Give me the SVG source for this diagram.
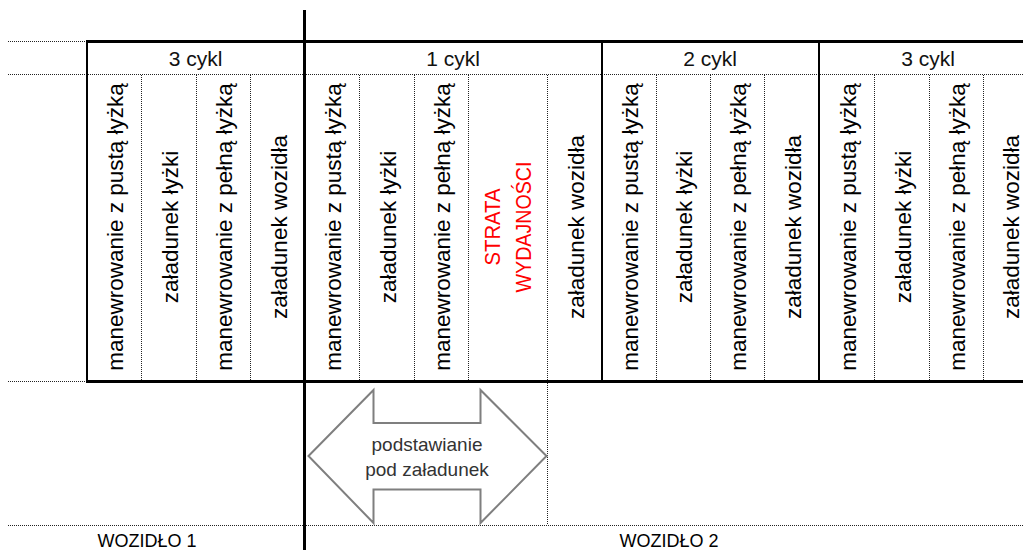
<svg xmlns="http://www.w3.org/2000/svg" width="1023" height="550" viewBox="0 0 1023 550">
<style>
.thick{stroke:#000;stroke-width:3;fill:none}
.solid{stroke:#000;stroke-width:2;fill:none}
.dot{stroke:#222;stroke-width:1;stroke-dasharray:1 1;fill:none}
.hdr{font-family:"Liberation Sans",Arial,sans-serif;font-size:21px;fill:#111;text-anchor:middle}
.v{font-family:"Liberation Sans",Arial,sans-serif;font-size:22.5px;fill:#000;text-anchor:middle}
.red{fill:#ff0000}
.lbl{font-family:"Liberation Sans",Arial,sans-serif;font-size:18px;fill:#000;text-anchor:middle}
.arw{font-family:"Liberation Sans",Arial,sans-serif;font-size:19px;fill:#333;text-anchor:middle}
</style>
<rect width="1023" height="550" fill="#fff"/>
<g id="grid">
  <path class="dot" d="M8 41.5H86 M8 74.5H1023 M8 381.5H86 M8 525.5H1023"/>
  <path class="dot" d="M141.5 75V380 M196.5 75V380 M250.5 75V380
    M359.5 75V380 M414.5 75V380 M468.5 75V380 M547.5 75V380
    M656.5 75V380 M710.5 75V380 M764.5 75V380
    M874.5 75V380 M929.5 75V380 M983.5 75V380
    M547.5 383V525"/>
  <path class="thick" d="M86 41.5H1023 M86 381.5H1023"/>
  <path class="solid" d="M87 41V382 M602 41V382 M819 41V382"/>
  <path class="thick" d="M304.5 10V550"/>
</g>
<g id="headers">
  <text class="hdr" x="195.5" y="66">3 cykl</text>
  <text class="hdr" x="453" y="66">1 cykl</text>
  <text class="hdr" x="710" y="66">2 cykl</text>
  <text class="hdr" x="928" y="66">3 cykl</text>
</g>
<g id="cycle3-left">
  <text class="v" x="123" y="227" transform="rotate(-90 123 227)">manewrowanie z pustą łyżką</text>
  <text class="v" x="177.5" y="227" transform="rotate(-90 177.5 227)">załadunek łyżki</text>
  <text class="v" x="232" y="227" transform="rotate(-90 232 227)">manewrowanie z pełną łyżką</text>
  <text class="v" x="286.5" y="227" transform="rotate(-90 286.5 227)">załadunek wozidła</text>
</g>
<g id="cycle1">
  <text class="v" x="340.5" y="227" transform="rotate(-90 340.5 227)">manewrowanie z pustą łyżką</text>
  <text class="v" x="395.5" y="227" transform="rotate(-90 395.5 227)">załadunek łyżki</text>
  <text class="v" x="450" y="227" transform="rotate(-90 450 227)">manewrowanie z pełną łyżką</text>
  <text class="v red" x="500" y="227" transform="rotate(-90 500 227)" textLength="77" lengthAdjust="spacingAndGlyphs">STRATA</text>
  <text class="v red" x="531" y="227" transform="rotate(-90 531 227)" textLength="131" lengthAdjust="spacingAndGlyphs">WYDAJNOŚCI</text>
  <text class="v" x="583.5" y="227" transform="rotate(-90 583.5 227)">załadunek wozidła</text>
</g>
<g id="cycle2">
  <text class="v" x="638" y="227" transform="rotate(-90 638 227)">manewrowanie z pustą łyżką</text>
  <text class="v" x="692" y="227" transform="rotate(-90 692 227)">załadunek łyżki</text>
  <text class="v" x="746" y="227" transform="rotate(-90 746 227)">manewrowanie z pełną łyżką</text>
  <text class="v" x="800.5" y="227" transform="rotate(-90 800.5 227)">załadunek wozidła</text>
</g>
<g id="cycle3-right">
  <text class="v" x="855.5" y="227" transform="rotate(-90 855.5 227)">manewrowanie z pustą łyżką</text>
  <text class="v" x="910.5" y="227" transform="rotate(-90 910.5 227)">załadunek łyżki</text>
  <text class="v" x="965" y="227" transform="rotate(-90 965 227)">manewrowanie z pełną łyżką</text>
  <text class="v" x="1018.5" y="227" transform="rotate(-90 1018.5 227)">załadunek wozidła</text>
</g>
<g id="arrow">
  <path d="M308.5 456 L373.5 390 V423 H480.5 V390 L546.5 456 L480.5 523 V489.5 H373.5 V523 Z" fill="#fff" stroke="#7f7f7f" stroke-width="2" stroke-linejoin="miter"/>
  <text class="arw" x="427" y="451">podstawianie</text>
  <text class="arw" x="427" y="476">pod załadunek</text>
</g>
<g id="labels">
  <text class="lbl" x="147" y="547">WOZIDŁO 1</text>
  <text class="lbl" x="669" y="547">WOZIDŁO 2</text>
</g>
</svg>
